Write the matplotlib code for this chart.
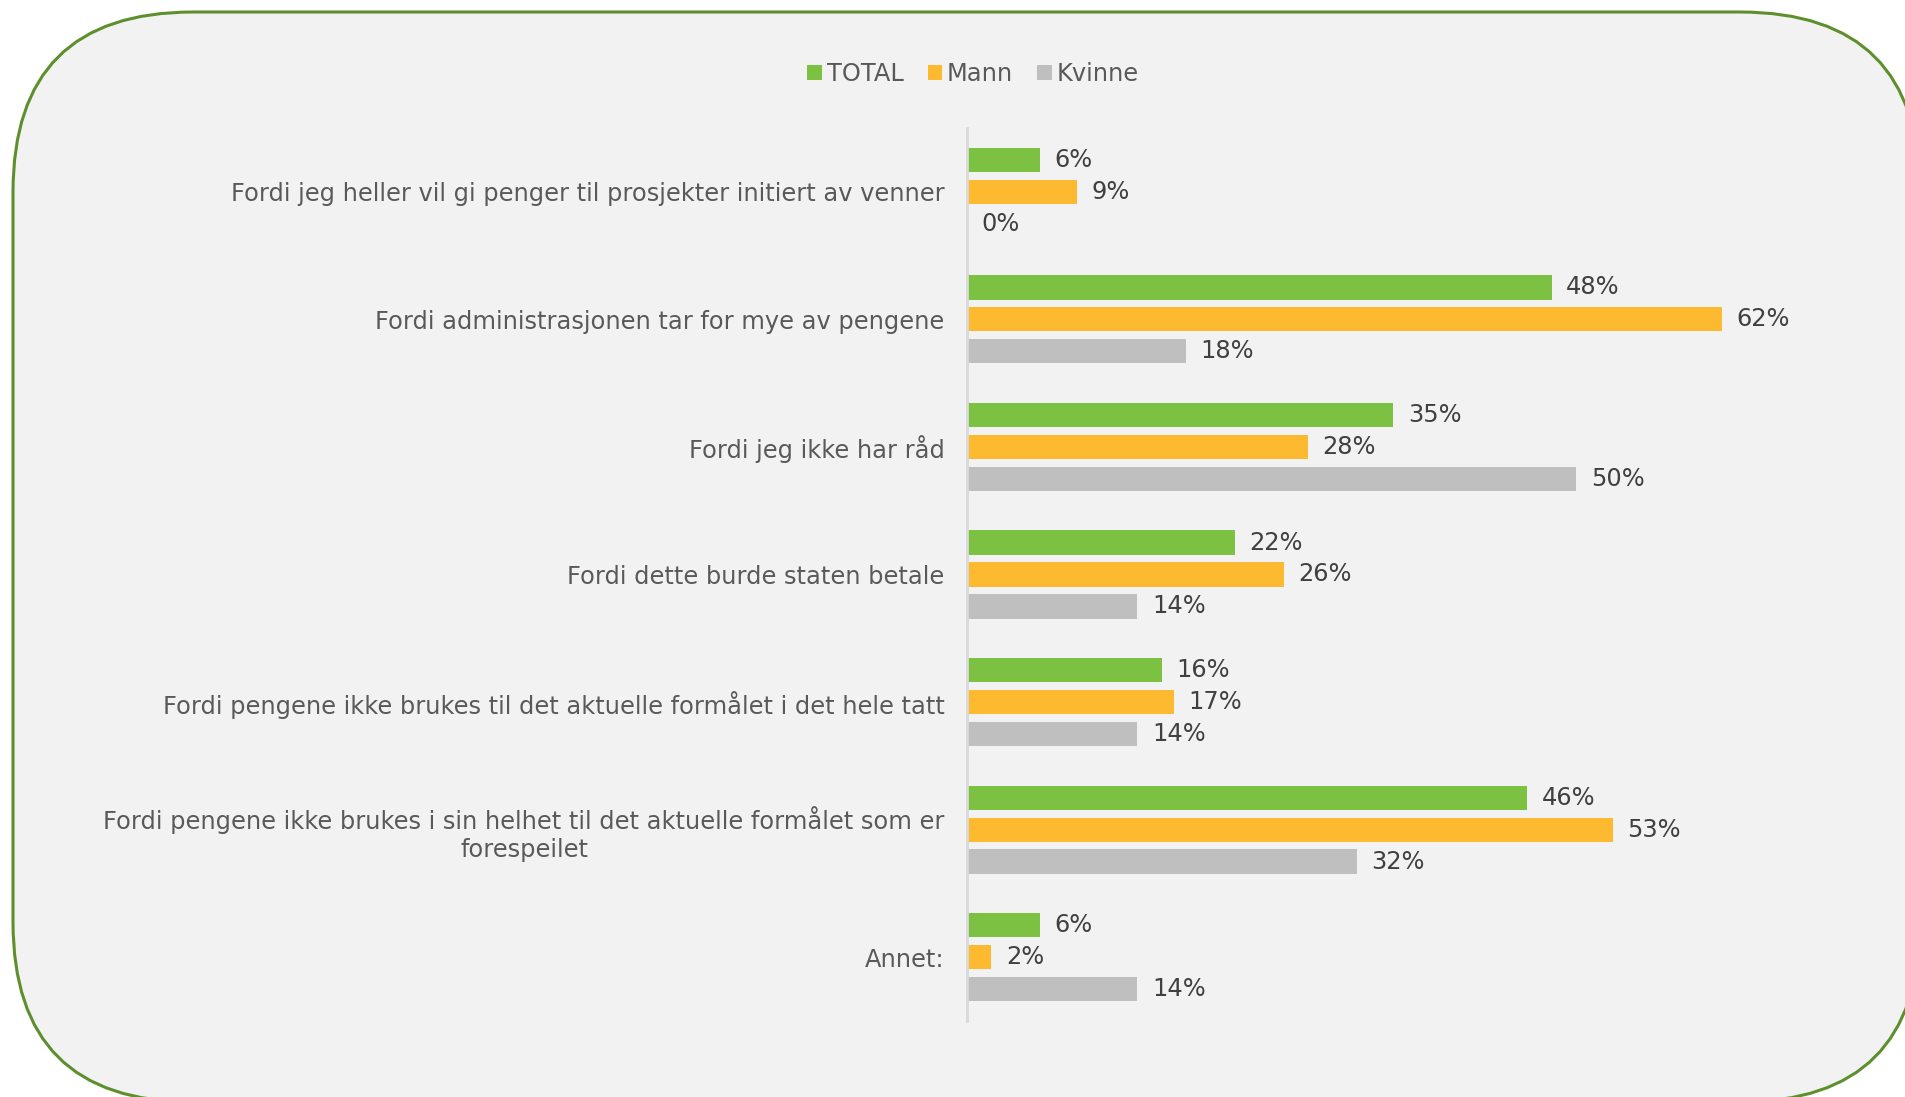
import matplotlib.pyplot as plt
from matplotlib.patches import FancyBboxPatch
from matplotlib.transforms import IdentityTransform
import numpy as np

# data
categories = [
    "Fordi jeg heller vil gi penger til prosjekter initiert av venner",
    "Fordi administrasjonen tar for mye av pengene",
    "Fordi jeg ikke har råd",
    "Fordi dette burde staten betale",
    "Fordi pengene ikke brukes til det aktuelle formålet i det hele tatt",
    "Fordi pengene ikke brukes i sin helhet til det aktuelle formålet som er\nforespeilet",
    "Annet:",
]
total = [6, 48, 35, 22, 16, 46, 6]
mann = [9, 62, 28, 26, 17, 53, 2]
kvinne = [0, 18, 50, 14, 14, 32, 14]

series_names = ["TOTAL", "Mann", "Kvinne"]
colors = ["#7cc142", "#fdb92f", "#bfbfbf"]

plt.rcParams['font.family'] = ['DejaVu Sans']
fs = 17.4

fig = plt.figure(figsize=(19.06, 10.97), dpi=100)
fig.patch.set_facecolor('white')

# rounded background panel (pixel coords)
box = FancyBboxPatch((13, -5), 1907, 1090,
                     boxstyle="round,pad=0,rounding_size=180",
                     transform=IdentityTransform(),
                     facecolor='#f2f2f2', edgecolor='#5e8f2d', linewidth=2.2,
                     zorder=-10)
fig.patches.append(box)

ax = fig.add_axes([0.5073, 0.0693, 0.48, 0.814])
ax.set_facecolor('none')
ax.set_zorder(5)

y = np.arange(len(categories))
offsets = [-0.25, 0, 0.25]
for vals, name, col, off in zip([total, mann, kvinne], series_names, colors, offsets):
    bars = ax.barh(y + off, vals, height=0.19, color=col, label=name)
    for b, v in zip(bars, vals):
        ax.text(b.get_width() + 1.2, b.get_y() + b.get_height() / 2,
                f"{v}%", va='center', ha='left', fontsize=fs, color='#404040')

ax.set_xlim(0, 75.1)
ax.set_ylim(len(categories) - 0.5, -0.5)
ax.set_yticks(y)
ax.set_yticklabels(categories, fontsize=fs, color='#595959')
for lab in ax.get_yticklabels():
    lab.set_multialignment('center')
ax.tick_params(axis='y', length=0, pad=16)
ax.set_xticks([])
for s in ['top', 'right', 'bottom']:
    ax.spines[s].set_visible(False)
ax.spines['left'].set_color('#d9d9d9')
ax.spines['left'].set_linewidth(2)

fig.legend(loc='center', bbox_to_anchor=(973 / 1906, 1 - 74 / 1097), ncol=3,
           frameon=False, fontsize=fs, handlelength=0.6, handleheight=0.6,
           handletextpad=0.2, columnspacing=1.0, labelcolor='#595959')

fig.savefig("out.png", dpi=100)
